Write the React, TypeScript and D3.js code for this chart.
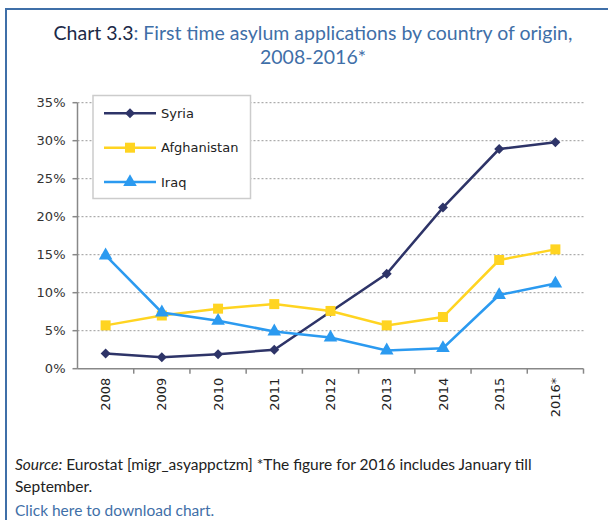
import React from 'react';
import * as d3 from 'd3';

const years = ['2008', '2009', '2010', '2011', '2012', '2013', '2014', '2015', '2016*'];
const syria = [2.0, 1.5, 1.9, 2.5, 7.5, 12.5, 21.2, 28.9, 29.8];
const afghanistan = [5.7, 7.0, 7.9, 8.5, 7.6, 5.7, 6.8, 14.3, 15.7];
const iraq = [14.9, 7.4, 6.3, 4.9, 4.1, 2.4, 2.7, 9.7, 11.2];
const yTicks = [0, 5, 10, 15, 20, 25, 30, 35];

const series = [
  { name: 'Syria', values: syria, color: '#2e3468', marker: d3.symbolSquare, size: 50, rot: 45 },
  { name: 'Afghanistan', values: afghanistan, color: '#ffd421', marker: d3.symbolSquare, size: 100, rot: 0 },
  { name: 'Iraq', values: iraq, color: '#2b9af0', marker: d3.symbolTriangle, size: 80, rot: 0 },
];

const W = 608;
const H = 520;
const left = 77.5;
const right = 583.5;
const top = 102.7;
const bottom = 368.7;
const sans = 'Lato, "Open Sans", sans-serif';
const tickFont = '"DejaVu Sans", Verdana, sans-serif';

export default function App() {
  const x = d3.scaleBand<string>().domain(years).range([left, right]);
  const y = d3.scaleLinear().domain([0, 35]).range([bottom, top]);
  const cx = (i: number) => (x(years[i]) as number) + x.bandwidth() / 2;
  const line = d3
    .line<number>()
    .x((_, i) => cx(i))
    .y((d) => y(d));

  return (
    <svg width={W} height={H} style={{ position: 'absolute', left: 0, top: 0, background: '#fff' }}>
      {/* frame */}
      <line x1={5} x2={W} y1={9} y2={9} stroke="#3f6fa8" strokeWidth={2} />
      <line x1={6} x2={6} y1={8} y2={H} stroke="#3f6fa8" strokeWidth={2} />

      {/* title */}
      <text x={313} y={40} textAnchor="middle" fontFamily={sans} fontSize={19.5}>
        <tspan fill="#1c2a48">Chart 3.3</tspan>
        <tspan fill="#3f6fa8">: First time asylum applications by country of origin,</tspan>
      </text>
      <text x={313} y={64} textAnchor="middle" fontFamily={sans} fontSize={19.5} fill="#3f6fa8">
        2008-2016*
      </text>

      {/* grid */}
      {yTicks.filter((t) => t > 0).map((t) => (
        <line key={t} x1={left} x2={right} y1={y(t)} y2={y(t)} stroke="#999" strokeDasharray="2,2" strokeWidth={1} />
      ))}

      {/* y axis */}
      <line x1={left} x2={left} y1={top} y2={bottom} stroke="#888" strokeWidth={1.5} />
      {yTicks.map((t) => (
        <g key={t}>
          <line x1={left - 5} x2={left} y1={y(t)} y2={y(t)} stroke="#888" strokeWidth={1.5} />
          <text x={left - 12} y={y(t)} dy="0.35em" textAnchor="end" fontFamily={tickFont} fontSize={13} fill="#333">
            {t}%
          </text>
        </g>
      ))}

      {/* x axis */}
      <line x1={left} x2={right} y1={bottom} y2={bottom} stroke="#888" strokeWidth={1.5} />
      {years.map((yr) => (
        <line key={yr} x1={(x(yr) as number) + x.bandwidth()} x2={(x(yr) as number) + x.bandwidth()} y1={bottom} y2={bottom + 5} stroke="#888" strokeWidth={1.5} />
      ))}
      {years.map((yr, i) => (
        <text key={yr} transform={`translate(${cx(i)},${bottom + 9}) rotate(-90)`} dy="0.35em" textAnchor="end" fontFamily={tickFont} fontSize={13} fill="#222">
          {yr}
        </text>
      ))}

      {/* series */}
      {series.map((s) => (
        <g key={s.name}>
          <path d={line(s.values) || ''} fill="none" stroke={s.color} strokeWidth={2.5} />
          {s.values.map((v, i) => (
            <path key={i} transform={`translate(${cx(i)},${y(v)}) rotate(${s.rot})`} d={d3.symbol().type(s.marker).size(s.size)() || ''} fill={s.color} />
          ))}
        </g>
      ))}

      {/* legend */}
      <rect x={93} y={95.5} width={157.5} height={103} fill="#fff" stroke="#ccc" strokeWidth={1.5} />
      {series.map((s, i) => {
        const ly = 113.3 + i * 34.4;
        return (
          <g key={s.name}>
            <line x1={104} x2={156} y1={ly} y2={ly} stroke={s.color} strokeWidth={2.5} />
            <path transform={`translate(130,${ly}) rotate(${s.rot})`} d={d3.symbol().type(s.marker).size(s.size)() || ''} fill={s.color} />
            <text x={161} y={ly} dy="0.35em" fontFamily={tickFont} fontSize={13} fill="#222">
              {s.name}
            </text>
          </g>
        );
      })}

      {/* footer */}
      <text x={15} y={470} fontFamily={sans} fontSize={15.5} fill="#222">
        <tspan fontStyle="italic">Source:</tspan> Eurostat [migr_asyappctzm] *The figure for 2016 includes January till
      </text>
      <text x={15} y={492} fontFamily={sans} fontSize={15.5} fill="#222">
        September.
      </text>
      <text x={15} y={516} fontFamily={sans} fontSize={15.5} fill="#3f6fa8">
        Click here to download chart.
      </text>
    </svg>
  );
}
